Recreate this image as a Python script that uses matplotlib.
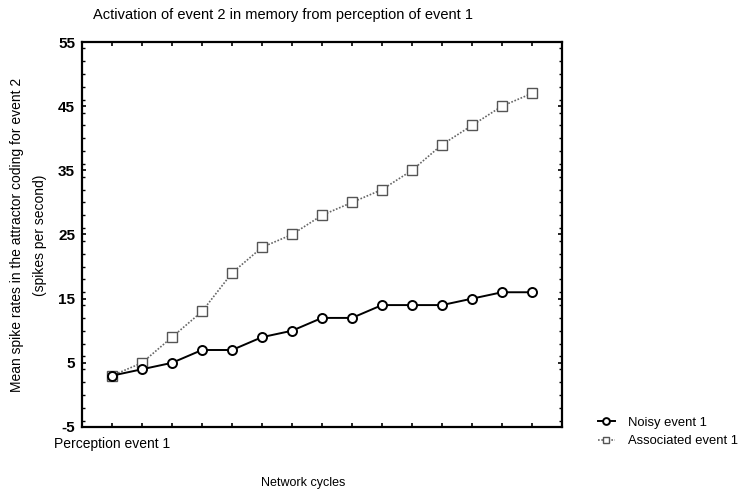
import matplotlib
matplotlib.use("Agg")
import matplotlib.pyplot as plt
from matplotlib.ticker import MultipleLocator, FixedLocator

plt.rcParams['font.family'] = ['Liberation Sans', 'DejaVu Sans']
plt.rcParams['axes.unicode_minus'] = False

cycles = list(range(15))
noisy = [3, 4, 5, 7, 7, 9, 10, 12, 12, 14, 14, 14, 15, 16, 16]
associated = [3, 5, 9, 13, 19, 23, 25, 28, 30, 32, 35, 39, 42, 45, 47]
y_ticks = [-5, 5, 15, 25, 35, 45, 55]
x_tick_labels = ["Perception event 1"]

fig = plt.figure(figsize=(7.42, 4.93), dpi=100)
ax = fig.add_axes([82/742, 1-427/493, (562-82)/742, (427-42)/493])

ax.plot(cycles, associated, color='#666666', linestyle=(0, (1, 1)), linewidth=1.2,
        marker='s', markersize=6.5, markerfacecolor='white', markeredgecolor='#555555',
        markeredgewidth=1.0, label='Associated event 1', zorder=2)
ax.plot(cycles, noisy, color='black', linestyle='-', linewidth=1.4,
        marker='o', markersize=6.5, markerfacecolor='white', markeredgecolor='black',
        markeredgewidth=1.4, label='Noisy event 1', zorder=3)

ax.set_xlim(-1, 15)
ax.set_ylim(-5, 55)
ax.set_yticks(y_ticks)
ax.yaxis.set_minor_locator(MultipleLocator(2))
ax.xaxis.set_major_locator(FixedLocator(cycles))
ax.set_xticklabels(x_tick_labels + [''] * (len(cycles) - 1), fontsize=10)
for lab in ax.get_yticklabels():
    lab.set_fontsize(11)
    lab.set_fontweight('bold')

ax.tick_params(axis='both', which='both', direction='in', top=True, right=True)
ax.tick_params(axis='y', which='major', length=3, width=1.2, pad=5)
ax.tick_params(axis='x', which='major', length=3, width=1.2, pad=7)
ax.tick_params(axis='y', which='minor', length=2, width=1.0)
for s in ax.spines.values():
    s.set_linewidth(1.6)

fig.text(93/742, 1-15/493, "Activation of event 2 in memory from perception of event 1",
         fontsize=10.5, ha='left', va='center')
fig.text(303/742, 1-483/493, "Network cycles", fontsize=9, ha='center', va='center')
fig.text(17/742, 1-235/493, "Mean spike rates in the attractor coding for event 2",
         fontsize=10, rotation=90, ha='center', va='center')
fig.text(40/742, 1-235/493, "(spikes per second)",
         fontsize=10, rotation=90, ha='center', va='center')

handles, labels = ax.get_legend_handles_labels()
leg = fig.legend(handles[::-1], labels[::-1], loc='center left',
                 bbox_to_anchor=(586/742, 1-432/493), frameon=False,
                 fontsize=9.4, handlelength=1.3, labelspacing=0.5, markerscale=0.75,
                 handletextpad=1.0)

fig.savefig("out.png", dpi=100)
